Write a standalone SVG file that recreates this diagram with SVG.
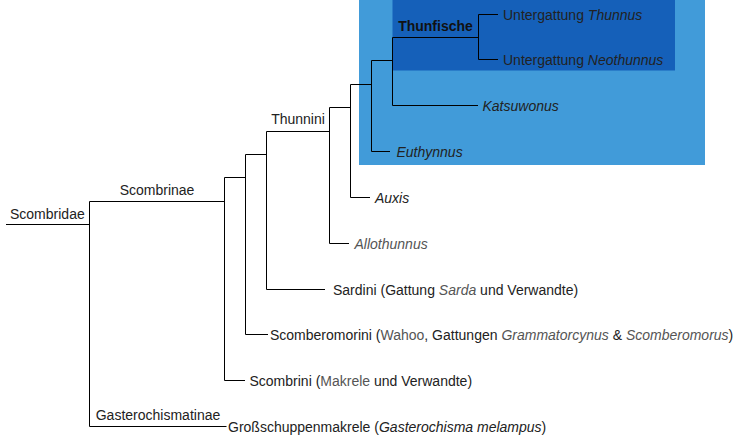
<svg xmlns="http://www.w3.org/2000/svg" width="741" height="445" viewBox="0 0 741 445">
<style>
text{font-family:"Liberation Sans",Arial,sans-serif;font-size:14px;fill:#222}
.l{fill:#555}
.i{font-style:italic}
.b{font-weight:bold;fill:#111}
.c{text-anchor:middle}
.e{fill:none;stroke:#000;stroke-width:1}
</style>
<rect id="box-thunnini" x="359" y="0" width="346" height="165" fill="#419BD9"/>
<rect id="box-thunfische" x="392.5" y="0" width="282.5" height="70.5" fill="#1560B9"/>
<g id="connectors" class="e">
<path class="e" d="M498,14.5H478.5V59.5H498"/>
<path class="e" d="M392.5,37.5H478.5"/>
<path class="e" d="M478,105.5H392.5V37.5"/>
<path class="e" d="M371.5,60.5H392.5M371.5,60.5V151.5H390"/>
<path class="e" d="M350.5,84.5H371.5M350.5,84.5V197.5H370"/>
<path class="e" d="M329.5,107.5H350.5M329.5,107.5V243.5H349"/>
<path class="e" d="M266.5,131.5H329.5M266.5,131.5V289.5H325"/>
<path class="e" d="M245.5,154.5H266.5M245.5,154.5V334.5H268"/>
<path class="e" d="M224.5,177.5H245.5M224.5,177.5V380.5H245"/>
<path class="e" d="M89.5,201.5H224.5"/>
<path class="e" d="M6,224.5H89.5M89.5,201.5V426.5H226.5"/>
</g>
<g id="n-scombridae"><text x="10" y="219">Scombridae</text></g>
<g id="n-scombrinae"><text class="c" x="157" y="195">Scombrinae</text></g>
<g id="n-gasterochismatinae"><text class="c" x="158" y="420">Gasterochismatinae</text></g>
<g id="n-thunnini"><text class="c" x="298" y="124">Thunnini</text></g>
<g id="n-thunfische"><text class="c b" x="435.5" y="31">Thunfische</text></g>
<g id="n-thunnus"><text x="503" y="19.5">Untergattung <tspan class="i">Thunnus</tspan></text></g>
<g id="n-neothunnus"><text x="503" y="64.5">Untergattung <tspan class="i">Neothunnus</tspan></text></g>
<g id="n-katsuwonus"><text class="i" x="482.5" y="110.5">Katsuwonus</text></g>
<g id="n-euthynnus"><text class="i" x="396.5" y="156.5">Euthynnus</text></g>
<g id="n-auxis"><text class="i" x="375" y="202.5">Auxis</text></g>
<g id="n-allothunnus"><text class="i l" x="354.5" y="248.5">Allothunnus</text></g>
<g id="n-sardini"><text x="333" y="294.5">Sardini (Gattung <tspan class="i l">Sarda</tspan> und Verwandte)</text></g>
<g id="n-scomberomorini"><text x="270" y="339.5">Scomberomorini (<tspan class="l">Wahoo</tspan>, Gattungen <tspan class="i l">Grammatorcynus</tspan> &amp; <tspan class="i l">Scomberomorus</tspan>)</text></g>
<g id="n-scombrini"><text x="249.5" y="385.5">Scombrini (<tspan class="l">Makrele</tspan> und Verwandte)</text></g>
<g id="n-gasterochisma"><text x="228" y="431.5">Großschuppenmakrele (<tspan class="i">Gasterochisma melampus</tspan>)</text></g>
</svg>
